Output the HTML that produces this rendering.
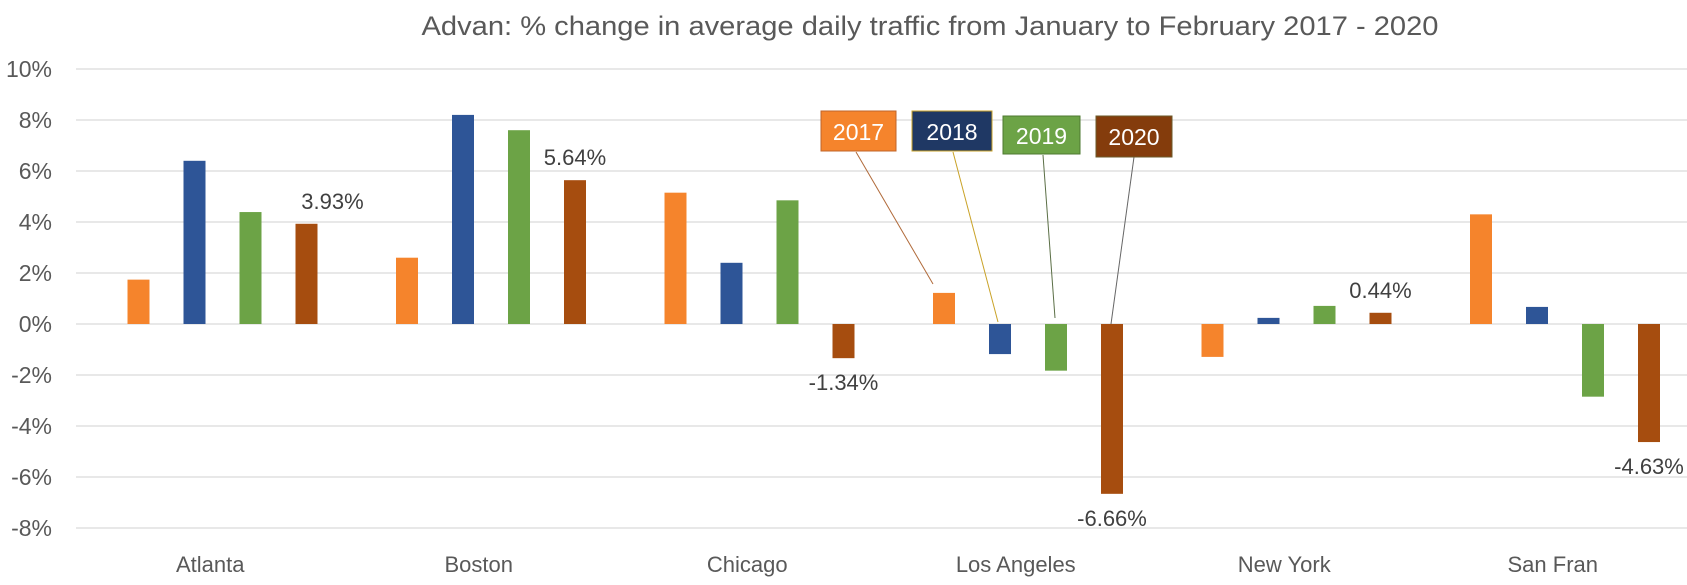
<!DOCTYPE html>
<html><head><meta charset="utf-8"><style>
html,body{margin:0;padding:0;background:#fff;}
svg{display:block;font-family:"Liberation Sans",sans-serif;}
</style></head><body>
<svg id="chart" width="1687" height="585" viewBox="0 0 1687 585">
<text x="930" y="35" font-size="27" fill="#595959" text-anchor="middle" textLength="1017" lengthAdjust="spacingAndGlyphs">Advan: % change in average daily traffic from January to February 2017 - 2020</text>
<g id="grid"></g><g id="bars"></g><g id="labels"></g>
<g id="legend">
<line x1="856" y1="152" x2="933" y2="284" stroke="#b06a3a" stroke-width="1"/>
<line x1="953" y1="152" x2="998" y2="322" stroke="#c9a227" stroke-width="1"/>
<line x1="1043" y1="155" x2="1055" y2="318" stroke="#5a6e45" stroke-width="1"/>
<line x1="1134" y1="157" x2="1111" y2="324" stroke="#666" stroke-width="1"/>
<g><rect x="821" y="111" width="75" height="40" fill="#F5842C" stroke="#c0652a"/><text x="858.5" y="140" font-size="23" fill="#fff" text-anchor="middle">2017</text></g>
<g><rect x="912" y="111" width="80" height="40" fill="#1F3864" stroke="#c9a227"/><text x="952" y="140" font-size="23" fill="#fff" text-anchor="middle">2018</text></g>
<g><rect x="1003" y="116" width="77" height="38" fill="#6CA346" stroke="#4e7a30"/><text x="1041.5" y="144" font-size="23" fill="#fff" text-anchor="middle">2019</text></g>
<g><rect x="1096" y="116" width="76" height="41" fill="#843C0C" stroke="#6b5a2a"/><text x="1134" y="145" font-size="23" fill="#fff" text-anchor="middle">2020</text></g>
</g>
</svg>
<script>
const categories = ["Atlanta","Boston","Chicago","Los Angeles","New York","San Fran"];
const years = ["2017","2018","2019","2020"];
const v2017 = [1.74, 2.6, 5.15, 1.22, -1.29, 4.3];
const v2018 = [6.4, 8.2, 2.4, -1.18, 0.24, 0.67];
const v2019 = [4.39, 7.6, 4.85, -1.83, 0.71, -2.85];
const v2020 = [3.93, 5.64, -1.34, -6.66, 0.44, -4.63];
const yTicks = [10, 8, 6, 4, 2, 0, -2, -4, -6, -8];
const labels2020 = ["3.93%","5.64%","-1.34%","-6.66%","0.44%","-4.63%"];
const colors = ["#F5842C","#2E5597","#6CA346","#A64D0F"];
const NS = "http://www.w3.org/2000/svg";
const plotL = 76, plotR = 1687, zeroY = 324, pxPer = 25.5;
const catW = (plotR - plotL) / categories.length;
function y(v){ return zeroY - v * pxPer; }
function catX(i){ return plotL + i * catW; }
function barX(i, s){ return catX(i) + 62.5 + s * 56; }
function mk(tag, attrs, parent){ const e = document.createElementNS(NS, tag); for (const k in attrs) e.setAttribute(k, attrs[k]); parent.appendChild(e); return e; }
const grid = document.getElementById("grid"), bars = document.getElementById("bars"), lab = document.getElementById("labels");
yTicks.forEach(t => {
  const ln = mk("line", {x1: plotL, x2: plotR, y1: y(t), y2: y(t), stroke: "#d9d9d9", "stroke-width": 1.3}, grid);
  
  
  const tx = mk("text", {x: 52, y: y(t) + 8, "font-size": 23, fill: "#595959", "text-anchor": "end"}, grid);
  tx.textContent = t + "%";
  
  
});
const series = [v2017, v2018, v2019, v2020];
series.forEach((vals, s) => {
  vals.forEach((v, i) => {
    const x = barX(i, s);
    const r = mk("rect", {x: x - 11, y: Math.min(y(v), zeroY), width: 22, height: Math.abs(y(v) - zeroY), fill: colors[s]}, bars);
    
    
  });
});
categories.forEach((c, i) => {
  const t = mk("text", {x: catX(i) + catW / 2, y: 572, "font-size": 22, fill: "#595959", "text-anchor": "middle"}, lab);
  t.textContent = c;
  
  
});
v2020.forEach((v, i) => {
  const x = barX(i, 3) + (i === 0 ? 26 : 0);
  const ty = v >= 0 ? y(v) - 15 : y(v) + 32;
  const t = mk("text", {x: x, y: ty, "font-size": 22, fill: "#404040", "text-anchor": "middle"}, lab);
  t.textContent = labels2020[i];
  
  
});
</script>
</body></html>
